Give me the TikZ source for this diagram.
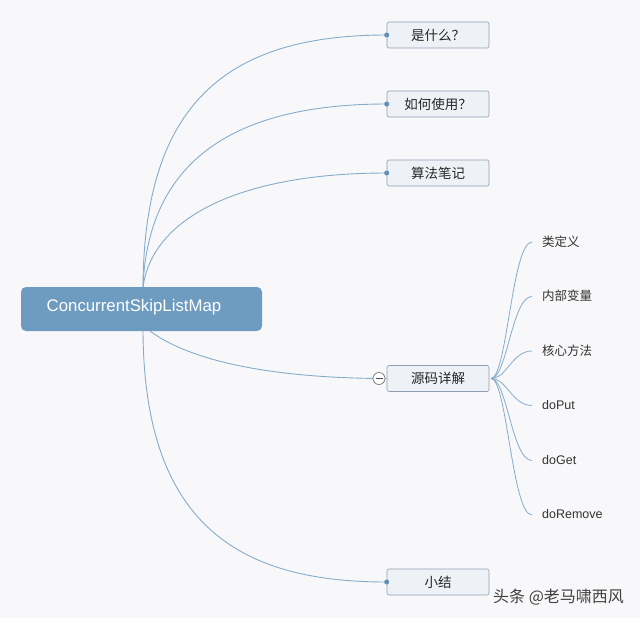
\documentclass[tikz,border=0pt]{standalone}
\usepackage{fontspec}
\usetikzlibrary{calc}
\setmainfont{Liberation Sans}
\newfontfamily\cjk{Noto Sans CJK SC}
\begin{document}
\begin{tikzpicture}[x=1pt,y=-1pt,
  lnk/.style={draw=linkc, line width=0.9pt},
  child/.style={draw=boxb, fill=boxf, rounded corners=2pt, minimum width=102pt, minimum height=26pt, inner sep=0pt, font=\cjk\fontsize{13.5}{15}\selectfont, text=black!85, line width=0.6pt},
  leaf/.style={anchor=west, inner sep=0pt, font=\fontsize{12.5}{14}\selectfont, text=black!80},
  dotn/.style={circle, fill=dotc, inner sep=0pt, minimum size=5pt}]
\definecolor{linkc}{HTML}{86ACC9}
\definecolor{boxb}{HTML}{8E9FB4}
\definecolor{boxf}{HTML}{EEF2F7}
\definecolor{dotc}{HTML}{5E8FBA}
\definecolor{rootc}{HTML}{6E9BC0}
\definecolor{bgc}{HTML}{F8F8FA}
\fill[bgc] (0,0) rectangle (640,618);
\useasboundingbox (0,0) rectangle (640,618);

\node[fill=rootc, rounded corners=5pt, minimum width=241pt, minimum height=44pt, inner sep=0pt, text=white, font=\fontsize{16.8}{18}\selectfont] (root) at (141.5,309) {};
\node[text=white, inner sep=0pt, font=\fontsize{16.8}{18}\selectfont] (roottext) at (134,307.5) {ConcurrentSkipListMap};

\node[child] (c1) at (438,35) {是什么？};
\node[child] (c2) at (438,104) {如何使用？};
\node[child] (c3) at (438,173) {算法笔记};
\node[child] (c4) at (438,378.5) {源码详解};
\node[child] (c5) at (438,582) {小结};

\coordinate (s1) at (143,287);
\coordinate (s2) at (143,331);
\coordinate (s3) at (150,331);

\draw[lnk] (s1) .. controls (144,105) and (225,35) .. (c1.west);
\draw[lnk] (s1) .. controls (148,160) and (235,104) .. (c2.west);
\draw[lnk] (s1) .. controls (153,215) and (245,173) .. (c3.west);
\draw[lnk] (s3) .. controls (200,368) and (300,378.5) .. (c4.west);
\draw[lnk] (s2) .. controls (144,530) and (245,582) .. (c5.west);

\node[dotn] at (c1.west) {};
\node[dotn] at (c2.west) {};
\node[dotn] at (c3.west) {};
\node[dotn] at (c5.west) {};
\node[circle, draw=black!60, fill=white, minimum size=12pt, inner sep=0pt, line width=0.6pt] (col) at (379,378.5) {};
\draw[black!70, line width=0.7pt] ($(col.center)+(-3.5,0)$) -- ($(col.center)+(3.5,0)$);

\node[leaf, font=\cjk\fontsize{12.5}{14}\selectfont] (l1) at (542,241.5) {类定义};
\node[leaf, font=\cjk\fontsize{12.5}{14}\selectfont] (l2) at (542,296) {内部变量};
\node[leaf, font=\cjk\fontsize{12.5}{14}\selectfont] (l3) at (542,350.5) {核心方法};
\node[leaf] (l4) at (542,405) {doPut};
\node[leaf] (l5) at (542,460) {doGet};
\node[leaf] (l6) at (542,514.5) {doRemove};

\coordinate (hub) at (491,378.5);
\foreach \n/\y in {l1/242,l2/296.5,l3/351,l4/405.5,l5/460.5,l6/515}{
  \draw[lnk, line width=0.8pt] (hub) .. controls (507,378.5) and (512,\y) .. (532,\y);
}

\node[anchor=west, inner sep=0pt, font=\cjk\fontsize{16}{18}\selectfont, text=black!75] (wm) at (493,597) {头条 @老马啸西风};
\end{tikzpicture}
\end{document}
